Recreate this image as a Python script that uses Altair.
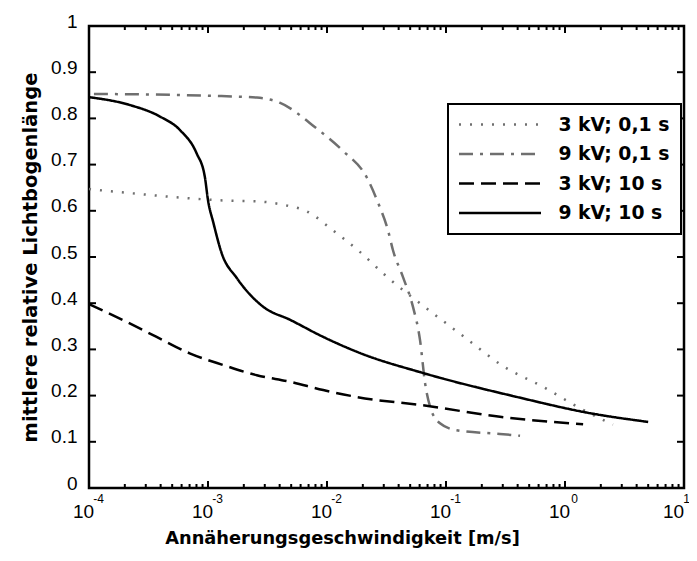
import altair as alt
import pandas as pd

# ---------------- data ----------------
series_names = ["3 kV; 0,1 s", "9 kV; 0,1 s", "3 kV; 10 s", "9 kV; 10 s"]
series_colors = ["#6f6f6f", "#6f6f6f", "#000000", "#000000"]
series_dashes = [[2, 9], [14, 7, 3, 7], [15, 7], [1, 0]]

speed_3kv_01 = [1.0e-4, 2.5e-4, 6.2e-4, 1.44e-3, 2.73e-3, 4.27e-3, 6.75e-3, 1.12e-2,
                1.89e-2, 3.07e-2, 3.59e-2, 7.35e-2, 0.149, 0.301, 0.653, 1.42, 2.53]
length_3kv_01 = [0.647, 0.637, 0.628, 0.622, 0.620, 0.613, 0.599, 0.558,
                 0.511, 0.461, 0.446, 0.383, 0.323, 0.264, 0.219, 0.169, 0.137]

speed_9kv_01 = [1.1e-4, 1.0e-3, 2.57e-3, 4.0e-3, 8.2e-3, 1.36e-2, 2.16e-2, 2.69e-2,
                3.26e-2, 3.59e-2, 4.36e-2, 5.28e-2, 6.05e-2, 6.67e-2, 7.35e-2, 8.9e-2,
                0.123, 0.284, 0.419]
length_9kv_01 = [0.853, 0.849, 0.845, 0.834, 0.778, 0.730, 0.672, 0.617,
                 0.557, 0.514, 0.456, 0.392, 0.320, 0.227, 0.176, 0.140,
                 0.125, 0.117, 0.113]

speed_3kv_10 = [1.0e-4, 1.94e-4, 3.7e-4, 7.1e-4, 1.35e-3, 2.57e-3, 4.9e-3, 9.3e-3,
                1.78e-2, 7.3e-2, 0.284, 1.42]
length_3kv_10 = [0.398, 0.363, 0.327, 0.291, 0.266, 0.244, 0.230, 0.212,
                 0.197, 0.177, 0.154, 0.138]

speed_9kv_10 = [1.0e-4, 2.2e-4, 3.95e-4, 5.8e-4, 8.0e-4, 9.4e-4, 1.0e-3, 1.11e-3,
                1.30e-3, 1.74e-3, 2.92e-3, 4.9e-3, 9.3e-3, 1.9e-2, 6.4e-2, 0.395,
                1.62, 5.0]
length_9kv_10 = [0.846, 0.829, 0.804, 0.775, 0.725, 0.674, 0.623, 0.574,
                 0.509, 0.455, 0.392, 0.364, 0.327, 0.292, 0.249, 0.197,
                 0.162, 0.143]

x_major = [1e-4, 1e-3, 1e-2, 1e-1, 1e0, 1e1]
x_minor = [m * 10.0 ** k for k in range(-4, 1) for m in range(2, 10)]
y_label_values = [0, 0.1, 0.2, 0.3, 0.4, 0.5, 0.6, 0.7, 0.8, 0.9, 1]
y_tick_values = [0.1, 0.2, 0.3, 0.4, 0.5, 0.6, 0.7, 0.8, 0.9]

x_title = "Annäherungsgeschwindigkeit [m/s]"
y_title = "mittlere relative Lichtbogenlänge"

# ---------------- tables ----------------
rows = []
for name, xs, ys in zip(series_names,
                        [speed_3kv_01, speed_9kv_01, speed_3kv_10, speed_9kv_10],
                        [length_3kv_01, length_9kv_01, length_3kv_10, length_9kv_10]):
    for i, (xv, yv) in enumerate(zip(xs, ys)):
        rows.append({"series": name, "v": xv, "l": yv, "ord": i})
df = pd.DataFrame(rows)

W, H = 595, 462
xscale = alt.Scale(type="log", domain=[1e-4, 10], nice=False)
yscale = alt.Scale(domain=[0, 1], nice=False, zero=False)

legend = alt.Legend(
    title=None, orient="none", legendX=359, legendY=78,
    symbolType="M-5,0H5", symbolSize=269, symbolStrokeWidth=2.5,
    symbolOffset=31.5, labelOffset=49,
    labelFont="DejaVu Sans", labelFontWeight="bold", labelFontSize=18.8,
    labelColor="black", padding=11, rowPadding=9.5,
    strokeColor="black", fillColor="white",
)

base = alt.Chart(df)

lines = base.mark_line(strokeWidth=2.5, interpolate="monotone", strokeCap="butt").encode(
    x=alt.X("v:Q", scale=xscale, axis=alt.Axis(
        orient="bottom", values=x_major, labelExpr="'10'", ticks=False, domain=False,
        grid=False, labelFont="Liberation Sans", labelFontSize=19, labelPadding=14,
        labelOffset={"condition": {"test": "datum.value > 5", "value": -11}, "value": -6},
        labelColor="black", labelFlush=False, labelOverlap=False,
        labelBound=False,
        title=x_title, titleFont="DejaVu Sans", titleFontWeight="bold", titleFontSize=17.8,
        titleX=253, titleY=50, titleBaseline="middle", titleAlign="center",
        titleColor="black")),
    y=alt.Y("l:Q", scale=yscale, axis=alt.Axis(
        orient="left", values=y_label_values, format="~g", ticks=False, domain=False,
        grid=False, labelFont="Liberation Sans", labelFontSize=19, labelPadding=12,
        labelOffset=-5, labelColor="black", labelFlush=False, labelOverlap=False,
        labelBound=False,
        title=y_title, titleFont="DejaVu Sans", titleFontWeight="bold", titleFontSize=19.5,
        titleX=-59, titleY=231, titleAngle=-90, titleBaseline="middle",
        titleAlign="center", titleColor="black")),
    color=alt.Color("series:N", sort=series_names,
                    scale=alt.Scale(domain=series_names, range=series_colors),
                    legend=legend),
    strokeDash=alt.StrokeDash("series:N", sort=series_names,
                              scale=alt.Scale(domain=series_names, range=series_dashes),
                              legend=legend),
    order=alt.Order("ord:Q"),
)

exps = base.mark_point(opacity=0).encode(
    x=alt.X("v:Q", scale=xscale, axis=alt.Axis(
        orient="bottom", values=x_major,
        labelExpr="'' + round(log(datum.value) / LN10)",
        ticks=False, domain=False, grid=False, labelFont="Liberation Sans",
        labelFontSize=12, labelPadding=5,
        labelOffset={"condition": {"test": "datum.value > 5", "value": 2}, "value": 9},
        labelColor="black",
        labelFlush=False, labelOverlap=False, labelBound=False, title=None)),
    y=alt.Y("l:Q", scale=yscale, axis=None),
)


def x_ticks(values, y0, y1):
    return alt.Chart(pd.DataFrame({"t": values})).mark_rule(
        color="black", strokeWidth=2).encode(
        x=alt.X("t:Q", scale=xscale, axis=None),
        y=alt.value(y0), y2=alt.value(y1))


def y_ticks(values, x0, x1):
    return alt.Chart(pd.DataFrame({"t": values})).mark_rule(
        color="black", strokeWidth=2).encode(
        y=alt.Y("t:Q", scale=yscale, axis=None),
        x=alt.value(x0), x2=alt.value(x1))


ticks = [
    x_ticks(x_major, H, H - 7), x_ticks(x_major, 0, 7),
    x_ticks(x_minor, H, H - 4), x_ticks(x_minor, 0, 4),
    y_ticks(y_tick_values, 0, 7), y_ticks(y_tick_values, W, W - 7),
]

chart = (
    alt.layer(lines, exps, *ticks)
    .resolve_axis(x="independent", y="independent")
    .properties(
        width=W, height=H,
        padding={"left": 81, "top": 18, "right": 5, "bottom": 65},
        autosize=alt.AutoSizeParams(type="none"),
        background="white",
    )
    .configure_view(stroke="black", strokeWidth=2.5)
    .configure_legend(strokeWidth=2)
)

chart.save("out.html", embed_options={"renderer": "svg", "actions": False})
